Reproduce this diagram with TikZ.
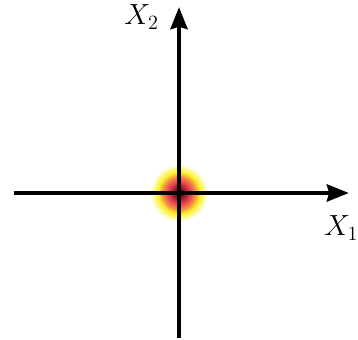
\documentclass[tikz,border=0pt]{standalone}
\usepackage{xcolor}
\usepackage{tikz}
\usetikzlibrary{arrows.meta}
\definecolor{blobred}{RGB}{228,60,80}
\definecolor{blobdark}{RGB}{110,15,25}
\definecolor{bloborange}{RGB}{245,140,70}
\definecolor{blobyellow}{RGB}{252,240,40}
\pgfdeclareradialshading{heatblob}{\pgfpoint{0bp}{0bp}}{%
  color(0bp)=(black); color(3bp)=(blobdark); color(9bp)=(blobred);
  color(14bp)=(bloborange); color(18bp)=(blobyellow);
  color(22bp)=(blobyellow!45!white); color(25bp)=(white); color(50bp)=(white)}

\begin{document}
\begin{tikzpicture}[
    axis/.style={line width=2.5pt, -{Stealth[length=5.5mm, width=4.3mm, inset=0.6mm]}},
    lbl/.style={font=\huge},
]
\useasboundingbox (0,0) rectangle (8.95,8.5);
% origin and axis ends
\coordinate (o) at (4.475,3.675);
\coordinate (xl) at (0.35,3.675);
\coordinate (xr) at (8.72,3.675);
\coordinate (yb) at (4.475,0.05);
\coordinate (yt) at (4.475,8.32);

\shade[shading=heatblob] (o) circle (0.72cm);

\draw[axis] (xl) -- (xr);
\draw[axis] (yb) -- (yt);

\node[lbl] (x1) at (8.53,2.8) {$X_1$};
\node[lbl] (x2) at (3.54,8.07) {$X_2$};
\end{tikzpicture}
\end{document}
